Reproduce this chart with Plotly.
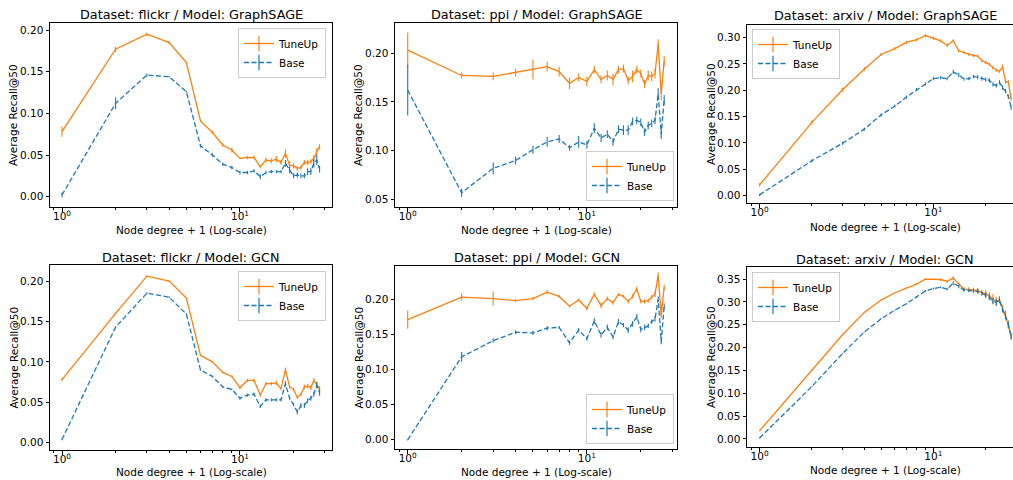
import plotly.graph_objects as go

# ---------------- data ----------------
x_flickr = list(range(1, 29))
x_ppi = list(range(1, 28))
x_arxiv = list(range(1, 29))

flickr_sage_tuneup = [0.078, 0.177, 0.195, 0.185, 0.161, 0.091, 0.077, 0.062, 0.056, 0.046, 0.047, 0.047, 0.036, 0.044,
                      0.043, 0.045, 0.041, 0.052, 0.038, 0.037, 0.034, 0.035, 0.041, 0.041, 0.042, 0.046, 0.054, 0.060]
flickr_sage_tuneup_err = [0.006, 0.003, 0.002, 0.002, 0.001, 0.001, 0.002, 0.002, 0.003, 0.001, 0.002, 0.002, 0.002, 0.003,
                          0.003, 0.004, 0.003, 0.005, 0.004, 0.003, 0.003, 0.003, 0.003, 0.003, 0.003, 0.004, 0.004, 0.003]
flickr_sage_base = [0.002, 0.112, 0.146, 0.144, 0.126, 0.061, 0.050, 0.039, 0.035, 0.029, 0.029, 0.031, 0.024, 0.029,
                    0.030, 0.030, 0.030, 0.040, 0.032, 0.025, 0.026, 0.025, 0.025, 0.030, 0.030, 0.040, 0.044, 0.033]
flickr_sage_base_err = [0.003, 0.007, 0.002, 0.001, 0.001, 0.002, 0.002, 0.002, 0.002, 0.002, 0.002, 0.002, 0.003, 0.002,
                        0.002, 0.002, 0.002, 0.004, 0.004, 0.003, 0.003, 0.003, 0.003, 0.004, 0.004, 0.005, 0.006, 0.004]

ppi_sage_tuneup = [0.203, 0.177, 0.176, 0.180, 0.183, 0.186, 0.181, 0.169, 0.175, 0.171, 0.183, 0.173, 0.177, 0.173,
                   0.183, 0.184, 0.172, 0.176, 0.183, 0.179, 0.168, 0.177, 0.176, 0.179, 0.209, 0.158, 0.192]
ppi_sage_tuneup_err = [0.018, 0.003, 0.004, 0.004, 0.010, 0.005, 0.005, 0.006, 0.004, 0.005, 0.004, 0.004, 0.005, 0.006,
                       0.004, 0.004, 0.004, 0.006, 0.004, 0.004, 0.004, 0.005, 0.005, 0.005, 0.005, 0.006, 0.005]
ppi_sage_base = [0.162, 0.057, 0.082, 0.090, 0.101, 0.109, 0.112, 0.103, 0.109, 0.106, 0.123, 0.113, 0.117, 0.109,
                 0.122, 0.121, 0.121, 0.130, 0.131, 0.129, 0.119, 0.126, 0.128, 0.131, 0.158, 0.117, 0.152]
ppi_sage_base_err = [0.026, 0.004, 0.006, 0.004, 0.004, 0.005, 0.004, 0.003, 0.006, 0.004, 0.005, 0.004, 0.004, 0.004,
                     0.004, 0.005, 0.005, 0.004, 0.004, 0.004, 0.004, 0.004, 0.004, 0.004, 0.006, 0.005, 0.005]

arxiv_sage_tuneup = [0.020, 0.139, 0.201, 0.240, 0.268, 0.279, 0.291, 0.296, 0.304, 0.299, 0.294, 0.285, 0.294, 0.275,
                     0.272, 0.268, 0.266, 0.265, 0.256, 0.253, 0.249, 0.243, 0.238, 0.236, 0.245, 0.217, 0.215, 0.184]
arxiv_sage_tuneup_err = [0.003, 0.004, 0.004, 0.004, 0.003, 0.003, 0.003, 0.003, 0.003, 0.003, 0.003, 0.003, 0.003, 0.003,
                         0.003, 0.003, 0.003, 0.003, 0.003, 0.003, 0.003, 0.003, 0.003, 0.003, 0.004, 0.004, 0.004, 0.004]
arxiv_sage_base = [0.001, 0.066, 0.099, 0.126, 0.153, 0.170, 0.187, 0.201, 0.212, 0.222, 0.224, 0.222, 0.235, 0.229,
                   0.221, 0.222, 0.226, 0.225, 0.222, 0.220, 0.219, 0.211, 0.209, 0.215, 0.205, 0.198, 0.188, 0.167]
arxiv_sage_base_err = [0.002, 0.003, 0.003, 0.003, 0.003, 0.003, 0.003, 0.003, 0.003, 0.003, 0.003, 0.003, 0.004, 0.004,
                       0.003, 0.003, 0.003, 0.004, 0.004, 0.004, 0.004, 0.004, 0.004, 0.004, 0.004, 0.004, 0.004, 0.004]

flickr_gcn_tuneup = [0.078, 0.160, 0.206, 0.200, 0.179, 0.108, 0.100, 0.087, 0.082, 0.068, 0.077, 0.077, 0.059, 0.073,
                     0.073, 0.074, 0.067, 0.090, 0.069, 0.066, 0.056, 0.060, 0.069, 0.070, 0.068, 0.077, 0.072, 0.066]
flickr_gcn_tuneup_err = [0.002, 0.001, 0.001, 0.001, 0.001, 0.001, 0.001, 0.001, 0.001, 0.002, 0.002, 0.002, 0.002, 0.002,
                         0.002, 0.003, 0.002, 0.003, 0.002, 0.002, 0.002, 0.002, 0.003, 0.003, 0.003, 0.003, 0.003, 0.004]
flickr_gcn_base = [0.004, 0.143, 0.185, 0.180, 0.159, 0.090, 0.082, 0.069, 0.066, 0.055, 0.059, 0.060, 0.045, 0.053,
                   0.053, 0.053, 0.053, 0.073, 0.055, 0.047, 0.038, 0.046, 0.046, 0.052, 0.055, 0.060, 0.071, 0.062]
flickr_gcn_base_err = [0.001, 0.001, 0.001, 0.001, 0.001, 0.001, 0.001, 0.001, 0.001, 0.002, 0.002, 0.002, 0.002, 0.002,
                       0.002, 0.002, 0.002, 0.003, 0.002, 0.002, 0.003, 0.003, 0.003, 0.003, 0.003, 0.003, 0.004, 0.004]

ppi_gcn_tuneup = [0.171, 0.203, 0.201, 0.198, 0.201, 0.210, 0.204, 0.190, 0.199, 0.187, 0.207, 0.191, 0.201, 0.195,
                  0.207, 0.204, 0.197, 0.204, 0.215, 0.197, 0.197, 0.198, 0.203, 0.207, 0.234, 0.177, 0.217]
ppi_gcn_tuneup_err = [0.013, 0.005, 0.010, 0.002, 0.002, 0.003, 0.002, 0.002, 0.002, 0.003, 0.003, 0.004, 0.003, 0.003,
                      0.002, 0.002, 0.003, 0.003, 0.003, 0.003, 0.003, 0.003, 0.003, 0.004, 0.004, 0.004, 0.004]
ppi_gcn_base = [0.000, 0.118, 0.141, 0.153, 0.152, 0.159, 0.160, 0.138, 0.156, 0.144, 0.169, 0.149, 0.160, 0.146,
                0.168, 0.163, 0.156, 0.165, 0.175, 0.157, 0.160, 0.162, 0.168, 0.172, 0.200, 0.140, 0.190]
ppi_gcn_base_err = [0.001, 0.007, 0.003, 0.003, 0.003, 0.003, 0.002, 0.003, 0.003, 0.003, 0.004, 0.004, 0.004, 0.003,
                    0.004, 0.003, 0.004, 0.004, 0.004, 0.004, 0.004, 0.003, 0.003, 0.004, 0.004, 0.004, 0.004]

arxiv_gcn_tuneup = [0.018, 0.151, 0.228, 0.277, 0.304, 0.320, 0.331, 0.339, 0.350, 0.350, 0.349, 0.345, 0.352, 0.339,
                    0.328, 0.327, 0.326, 0.325, 0.320, 0.318, 0.313, 0.307, 0.301, 0.305, 0.286, 0.272, 0.250, 0.225]
arxiv_gcn_tuneup_err = [0.001, 0.001, 0.001, 0.001, 0.001, 0.001, 0.001, 0.002, 0.002, 0.002, 0.003, 0.003, 0.004, 0.004,
                        0.004, 0.005, 0.005, 0.006, 0.006, 0.008, 0.008, 0.010, 0.010, 0.008, 0.008, 0.010, 0.010, 0.008]
arxiv_gcn_base = [0.002, 0.115, 0.187, 0.234, 0.263, 0.282, 0.296, 0.311, 0.324, 0.329, 0.332, 0.328, 0.341, 0.334,
                  0.326, 0.325, 0.324, 0.323, 0.319, 0.315, 0.310, 0.302, 0.299, 0.304, 0.283, 0.269, 0.250, 0.224]
arxiv_gcn_base_err = [0.001, 0.001, 0.001, 0.001, 0.001, 0.001, 0.001, 0.002, 0.002, 0.002, 0.002, 0.003, 0.004, 0.004,
                      0.004, 0.004, 0.004, 0.005, 0.005, 0.006, 0.006, 0.007, 0.007, 0.006, 0.006, 0.007, 0.007, 0.006]

titles = ["Dataset: flickr / Model: GraphSAGE", "Dataset: ppi / Model: GraphSAGE", "Dataset: arxiv / Model: GraphSAGE",
          "Dataset: flickr / Model: GCN", "Dataset: ppi / Model: GCN", "Dataset: arxiv / Model: GCN"]
x_label = "Node degree + 1 (Log-scale)"
y_label = "Average Recall@50"
series_names = ["TuneUp", "Base"]

# ---------------- styling / layout ----------------
W, H = 1013, 480
ORANGE = "#ff7f0e"
BLUE = "#1f77b4"
FONT = "DejaVu Sans"
BASE_FS = 10.5
TITLE_FS = 12.8

panels = [
    dict(x=x_flickr, t=flickr_sage_tuneup, te=flickr_sage_tuneup_err, b=flickr_sage_base, be=flickr_sage_base_err,
         px=(50, 332), py=(23, 207), xr=[-0.0674, 1.517], yr=[-0.0124, 0.2085], yt=[0, 0.05, 0.10, 0.15, 0.20],
         leg=dict(x=326, y=28, xa="right", ya="top"), right=True, xl=230),
    dict(x=x_ppi, t=ppi_sage_tuneup, te=ppi_sage_tuneup_err, b=ppi_sage_base, be=ppi_sage_base_err,
         px=(395, 677), py=(23, 207), xr=[-0.071, 1.503], yr=[0.0424, 0.2307], yt=[0.05, 0.10, 0.15, 0.20],
         leg=dict(x=674, y=201, xa="right", ya="bottom"), right=True, xl=230),
    dict(x=x_arxiv, t=arxiv_sage_tuneup, te=arxiv_sage_tuneup_err, b=arxiv_sage_base, be=arxiv_sage_base_err,
         px=(747, 1013), py=(25, 203), xr=[-0.0724, 1.458], yr=[-0.0144, 0.324],
         yt=[0, 0.05, 0.10, 0.15, 0.20, 0.25, 0.30],
         leg=dict(x=752, y=29, xa="left", ya="top"), right=False, xl=227),
    dict(x=x_flickr, t=flickr_gcn_tuneup, te=flickr_gcn_tuneup_err, b=flickr_gcn_base, be=flickr_gcn_base_err,
         px=(50, 332), py=(265, 450), xr=[-0.0674, 1.517], yr=[-0.009, 0.2198], yt=[0, 0.05, 0.10, 0.15, 0.20],
         leg=dict(x=326, y=271, xa="right", ya="top"), right=True, xl=472),
    dict(x=x_ppi, t=ppi_gcn_tuneup, te=ppi_gcn_tuneup_err, b=ppi_gcn_base, be=ppi_gcn_base_err,
         px=(395, 677), py=(266, 449), xr=[-0.071, 1.503], yr=[-0.0132, 0.2473], yt=[0, 0.05, 0.10, 0.15, 0.20],
         leg=dict(x=674, y=444, xa="right", ya="bottom"), right=True, xl=472),
    dict(x=x_arxiv, t=arxiv_gcn_tuneup, te=arxiv_gcn_tuneup_err, b=arxiv_gcn_base, be=arxiv_gcn_base_err,
         px=(747, 1013), py=(267, 447), xr=[-0.0724, 1.458], yr=[-0.0176, 0.3764],
         yt=[0, 0.05, 0.10, 0.15, 0.20, 0.25, 0.30, 0.35],
         leg=dict(x=752, y=272, xa="left", ya="top"), right=False, xl=470),
]
title_pos = [(191, 14), (537, 14), (885, 16), (191, 257), (537, 257), (885, 259)]
ylab_x = [13, 358, 711, 13, 358, 711]

fig = go.Figure()
layout = dict(width=W, height=H, margin=dict(l=0, r=0, t=0, b=0), paper_bgcolor="white", plot_bgcolor="white",
              font=dict(family=FONT, size=BASE_FS, color="black"), annotations=[])

minor_vals = [0.9, 2, 3, 4, 5, 6, 7, 8, 9, 20, 30]

for i, p in enumerate(panels, start=1):
    sfx = "" if i == 1 else str(i)
    xref, yref = "x" + sfx, "y" + sfx
    legname = "legend" + sfx
    dash = "5px,2.5px"
    fig.add_trace(go.Scatter(x=p["x"], y=p["t"], mode="lines", line=dict(color=ORANGE, width=1.3),
                             error_y=dict(type="data", array=p["te"], color=ORANGE, thickness=1.1, width=0),
                             xaxis=xref, yaxis=yref, showlegend=False, name=series_names[0]))
    fig.add_trace(go.Scatter(x=p["x"], y=p["b"], mode="lines", line=dict(color=BLUE, width=1.3, dash=dash),
                             error_y=dict(type="data", array=p["be"], color=BLUE, thickness=1.1, width=0),
                             xaxis=xref, yaxis=yref, showlegend=False, name=series_names[1]))
    for nm, col, ds in [(series_names[0], ORANGE, "solid"), (series_names[1], BLUE, dash)]:
        fig.add_trace(go.Scatter(x=[None], y=[None], mode="lines+markers", name=nm,
                                 line=dict(color=col, width=1.3, dash=ds),
                                 marker=dict(symbol="line-ns-open", size=11, color=col, line=dict(width=1.2, color=col)),
                                 xaxis=xref, yaxis=yref, legend=legname, showlegend=True))
    x0, x1 = p["px"]
    y0, y1 = p["py"]
    layout["xaxis" + sfx] = dict(
        type="log", domain=[x0 / W, min(1.0, x1 / W)], range=p["xr"], anchor=yref,
        showline=True, linecolor="black", linewidth=1, mirror=True, showgrid=False, zeroline=False,
        ticks="outside", ticklen=3.5, tickwidth=0.8, tickcolor="black", ticklabelstandoff=-4,
        tickvals=[1, 10], ticktext=["10<sup>0</sup>", "10<sup>1</sup>"], tickfont=dict(size=BASE_FS),
        minor=dict(tickvals=minor_vals, ticks="outside", ticklen=2, tickwidth=0.6, tickcolor="black", showgrid=False),
    )
    layout["yaxis" + sfx] = dict(
        domain=[1 - y1 / H, 1 - y0 / H], range=p["yr"], anchor=xref,
        showline=True, linecolor="black", linewidth=1, mirror=p["right"], showgrid=False, zeroline=False,
        ticks="outside", ticklen=3.5, tickwidth=0.8, tickcolor="black",
        tickvals=p["yt"], tickformat=".2f", tickfont=dict(size=BASE_FS),
    )
    lg = p["leg"]
    layout[legname] = dict(x=lg["x"] / W, y=1 - lg["y"] / H, xanchor=lg["xa"], yanchor=lg["ya"],
                           bgcolor="rgba(255,255,255,0.8)", bordercolor="#cccccc", borderwidth=1,
                           font=dict(size=BASE_FS, family=FONT), itemwidth=30, tracegroupgap=0)
    tx, ty = title_pos[i - 1]
    layout["annotations"].append(dict(text=titles[i - 1], x=tx / W, y=1 - ty / H, xref="paper", yref="paper",
                                      showarrow=False, xanchor="center", yanchor="middle", font=dict(size=TITLE_FS)))
    cx = (x0 + (x1 if p["right"] else 1023)) / 2
    layout["annotations"].append(dict(text=x_label, x=cx / W, y=1 - p["xl"] / H, xref="paper", yref="paper",
                                      showarrow=False, xanchor="center", yanchor="middle", font=dict(size=BASE_FS)))
    layout["annotations"].append(dict(text=y_label, x=ylab_x[i - 1] / W, y=1 - ((y0 + y1) / 2) / H, xref="paper",
                                      yref="paper", showarrow=False, xanchor="center", yanchor="middle",
                                      textangle=-90, font=dict(size=BASE_FS)))

fig.update_layout(**layout)
fig.write_html("out.html", config={"displayModeBar": False},
               post_script="document.body.style.margin='0px';document.body.style.overflow='hidden';")
